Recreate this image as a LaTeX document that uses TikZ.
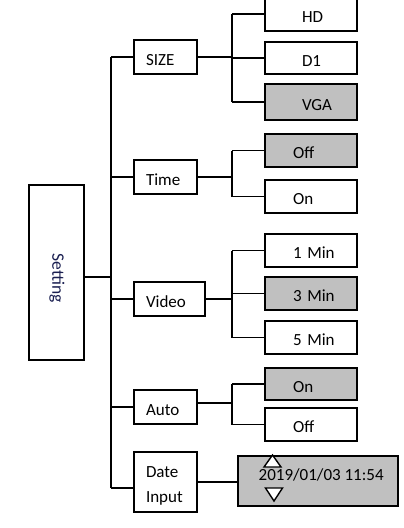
\documentclass[tikz,border=0pt]{standalone}
\usepackage{fontspec}
\usepackage{graphicx}
\setmainfont{Carlito}
\definecolor{selgray}{RGB}{192,192,192}
\definecolor{navytext}{RGB}{25,30,80}
\begin{document}
\begin{tikzpicture}[x=1pt,y=-1pt,line width=1.4pt,
  box/.style={draw,line width=1.4pt,inner ysep=0pt,font=\fontsize{17}{25}\selectfont,align=left,text height=16pt,text depth=0pt},
  lone/.style={box,inner xsep=12pt,text width=39pt,minimum height=34pt},
  opt/.style={box,inner xsep=28pt,text width=36pt,minimum height=33pt},
  sel/.style={fill=selgray},
  tri/.style={draw,fill=white,line width=1.4pt,line join=miter}]
\useasboundingbox (0,0) rectangle (404,528);

% root
\node[draw,line width=1.4pt,minimum width=55pt,minimum height=175pt,inner sep=0pt] (setting) at (56.5,272.5) {};
\node[font=\fontsize{17.5}{20}\selectfont,text=navytext,inner sep=0pt] (settingtxt) at (57,278) {\rotatebox{-90}{Setting}};

% level 1
\node[lone] (size) at (165.5,57) {\mbox{SIZE}};
\node[lone] (time) at (165.5,177) {\mbox{Time}};
\node[lone,text width=47pt] (video) at (169.5,299) {\mbox{Video}};
\node[lone] (auto) at (165.5,407) {\mbox{Auto}};
\node[lone,minimum height=60pt,text height=0pt,text depth=9pt] (date) at (165.5,482) {Date\\Input};

% level 2
\node[opt,minimum height=34pt] (hd) at (311,14) {\mbox{\hspace*{9pt}HD}};
\node[opt,minimum height=32pt] (done) at (311,58) {\mbox{\hspace*{9pt}D1}};
\node[opt,sel,minimum height=36pt] (vga) at (311,102) {\mbox{\hspace*{9pt}VGA}};
\node[opt,sel] (offa) at (311,150.5) {\mbox{Off}};
\node[opt] (ona) at (311,196.5) {\mbox{On}};
\node[opt] (mone) at (311,250.5) {\mbox{1 Min}};
\node[opt,sel] (mthree) at (311,293.5) {\mbox{3 Min}};
\node[opt] (mfive) at (311,337.5) {\mbox{5 Min}};
\node[opt,sel,minimum height=32pt] (onb) at (311,384) {\mbox{On}};
\node[opt] (offb) at (311,424.5) {\mbox{Off}};

% date value
\node[draw,sel,line width=1.4pt,minimum width=160pt,minimum height=50pt,inner sep=0pt] (dateval) at (318,481) {};
\node[anchor=west,inner sep=0pt,font=\fontsize{17}{20}\selectfont] (datetxt) at (258,474.5) {2019/01/03 11:54};
\draw[tri] (272.5,455) -- (281,467) -- (264,467) -- cycle;
\draw[tri] (265.5,488) -- (282.5,488) -- (274,501) -- cycle;

% connectors
\coordinate (tr) at (111,0);
\coordinate (ja) at (232,0);
\coordinate (setout) at (84,277);
\coordinate (dateln) at (134,488);
\coordinate (autoln) at (197,403);
\draw (setout) -- (tr |- setout);
\draw (tr |- size.west) -- (tr |- dateln);
\draw (tr |- size.west) -- (size.west);
\draw (tr |- time.west) -- (time.west);
\draw (tr |- video.west) -- (video.west);
\draw (tr |- auto.west) -- (auto.west);
\draw (dateln) -- (tr |- dateln);

\draw (size.east) -- (ja |- size.east);
\draw (ja |- hd.west) -- (ja |- vga.west);
\draw (ja |- hd.west) -- (hd.west);
\draw (ja |- done.west) -- (done.west);
\draw (ja |- vga.west) -- (vga.west);

\draw (time.east) -- (ja |- time.east);
\draw (ja |- offa.west) -- (ja |- ona.west);
\draw (ja |- offa.west) -- (offa.west);
\draw (ja |- ona.west) -- (ona.west);

\draw (video.east) -- (ja |- video.east);
\draw (ja |- mone.west) -- (ja |- mfive.west);
\draw (ja |- mone.west) -- (mone.west);
\draw (ja |- mthree.west) -- (mthree.west);
\draw (ja |- mfive.west) -- (mfive.west);

\draw (autoln) -- (ja |- autoln);
\draw (ja |- onb.west) -- (ja |- offb.west);
\draw (ja |- onb.west) -- (onb.west);
\draw (ja |- offb.west) -- (offb.west);

\draw (date.east) -- (date.east -| dateval.west);
\end{tikzpicture}
\end{document}
